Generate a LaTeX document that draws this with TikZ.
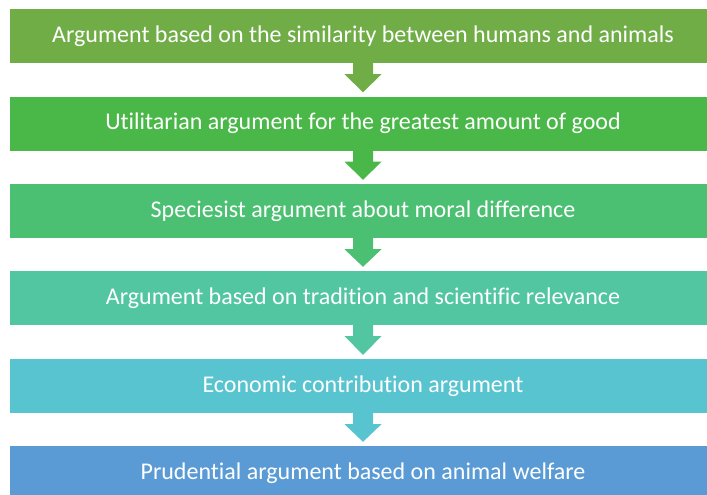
\documentclass[tikz,border=0pt]{standalone}
\usepackage{fontspec}
\setmainfont{Carlito}[Ligatures={NoCommon}]
\usetikzlibrary{calc}
\definecolor{c1}{RGB}{112,173,71}
\definecolor{c2}{RGB}{74,184,72}
\definecolor{c3}{RGB}{76,192,114}
\definecolor{c4}{RGB}{82,197,161}
\definecolor{c5}{RGB}{88,196,207}
\definecolor{c6}{RGB}{91,155,213}
\tikzset{
  stagebox/.style={minimum width=706pt, minimum height=54pt, inner sep=0pt,
    text=white, font=\fontsize{24}{28}\selectfont},
}
\newcommand\flowarrow[3]{%
  \fill[#3] ($(#1.south)+(-10pt,0.5pt)$) -- ($(#1.south)+(10pt,0.5pt)$)
    -- ($(#1.south)+(10pt,-11pt)$) -- ($(#1.south)+(18.5pt,-11pt)$)
    -- ($(#2.north)+(0,4pt)$) -- ($(#1.south)+(-18.5pt,-11pt)$)
    -- ($(#1.south)+(-10pt,-11pt)$) -- cycle;}
\begin{document}
\begin{tikzpicture}[x=1pt,y=-1pt]
\useasboundingbox (0,0) rectangle (707,495);
\clip (0,0) rectangle (707,495);
\node[stagebox, fill=c1] (b1) at (363,36) {Argument based on the similarity between humans and animals};
\node[stagebox, fill=c2] (b2) at (363,123.5) {Utilitarian argument for the greatest amount of good};
\node[stagebox, fill=c3] (b3) at (363,211) {Speciesist argument about moral difference};
\node[stagebox, fill=c4] (b4) at (363,298) {Argument based on tradition and scientific relevance};
\node[stagebox, fill=c5] (b5) at (363,386) {Economic contribution argument};
\node[stagebox, fill=c6] (b6) at (363,473) {Prudential argument based on animal welfare};
\flowarrow{b1}{b2}{c1}
\flowarrow{b2}{b3}{c2}
\flowarrow{b3}{b4}{c3}
\flowarrow{b4}{b5}{c4}
\flowarrow{b5}{b6}{c5}
\end{tikzpicture}
\end{document}
